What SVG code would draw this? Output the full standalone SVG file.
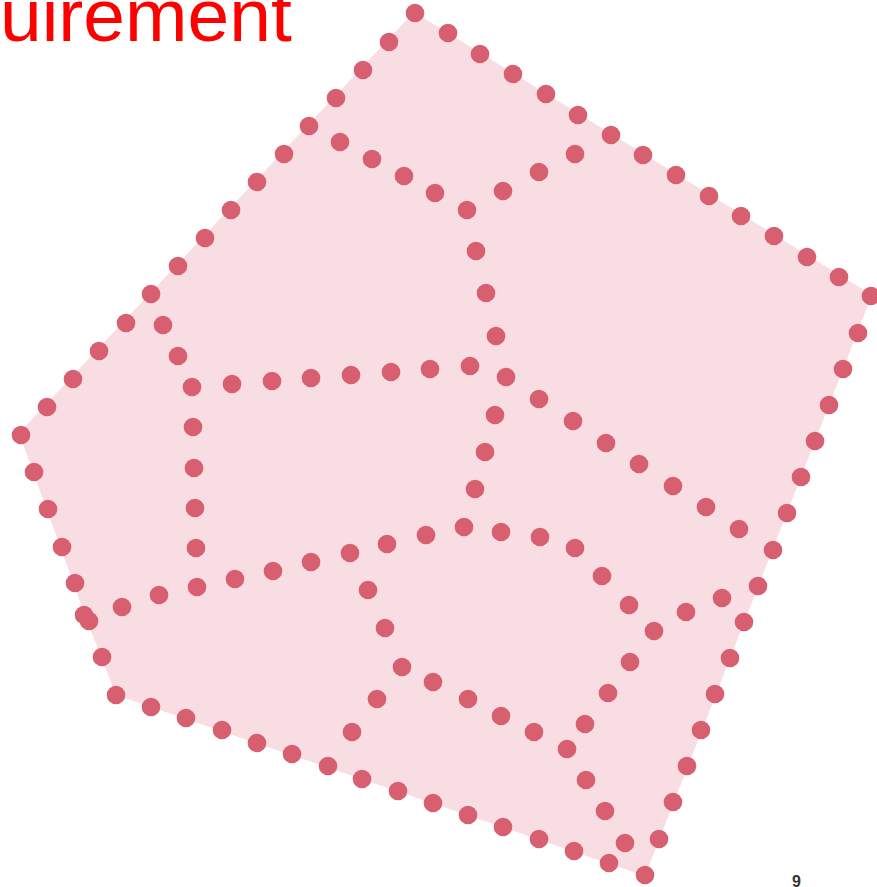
<svg xmlns="http://www.w3.org/2000/svg" width="877" height="887" viewBox="0 0 877 887">
<style>
.d{fill:#d75f70}
.t{font-family:"Liberation Sans",Arial,sans-serif}
</style>
<defs><circle id="c" r="9.3" class="d"/></defs>
<rect width="877" height="887" fill="#ffffff"/>
<g id="shape">
<polygon points="414,12 872,295 645,876 116,695 86,618 19,433" fill="#f8dde3"/>
</g>
<g id="outline">
<use href="#c" x="415" y="13"/><use href="#c" x="389" y="42"/><use href="#c" x="363" y="70"/><use href="#c" x="336" y="98"/><use href="#c" x="309" y="126"/><use href="#c" x="284" y="154"/><use href="#c" x="257" y="182"/><use href="#c" x="231" y="210"/><use href="#c" x="205" y="238"/><use href="#c" x="178" y="266"/><use href="#c" x="151" y="294"/><use href="#c" x="126" y="323"/><use href="#c" x="99" y="351"/><use href="#c" x="73" y="379"/><use href="#c" x="47" y="407"/><use href="#c" x="21" y="435"/>
<use href="#c" x="34" y="472"/><use href="#c" x="48" y="509"/><use href="#c" x="62" y="547"/><use href="#c" x="75" y="583"/><use href="#c" x="84" y="615"/><use href="#c" x="89" y="621"/><use href="#c" x="102" y="657"/><use href="#c" x="116" y="695"/>
<use href="#c" x="151" y="707"/><use href="#c" x="186" y="718"/><use href="#c" x="222" y="730"/><use href="#c" x="257" y="743"/><use href="#c" x="292" y="754"/><use href="#c" x="328" y="766"/><use href="#c" x="362" y="779"/><use href="#c" x="398" y="791"/><use href="#c" x="433" y="803"/><use href="#c" x="468" y="815"/><use href="#c" x="503" y="827"/><use href="#c" x="539" y="839"/><use href="#c" x="574" y="851"/><use href="#c" x="609" y="863"/><use href="#c" x="645" y="875"/>
<use href="#c" x="659" y="839"/><use href="#c" x="673" y="802"/><use href="#c" x="687" y="766"/><use href="#c" x="701" y="730"/><use href="#c" x="715" y="694"/><use href="#c" x="730" y="658"/><use href="#c" x="744" y="622"/><use href="#c" x="758" y="586"/><use href="#c" x="773" y="550"/><use href="#c" x="787" y="513"/><use href="#c" x="801" y="477"/><use href="#c" x="815" y="441"/><use href="#c" x="829" y="405"/><use href="#c" x="843" y="369"/><use href="#c" x="858" y="333"/><use href="#c" x="871" y="296"/>
<use href="#c" x="448" y="33"/><use href="#c" x="480" y="54"/><use href="#c" x="513" y="74"/><use href="#c" x="546" y="94"/><use href="#c" x="578" y="115"/><use href="#c" x="611" y="135"/><use href="#c" x="643" y="155"/><use href="#c" x="676" y="175"/><use href="#c" x="709" y="196"/><use href="#c" x="741" y="216"/><use href="#c" x="774" y="236"/><use href="#c" x="807" y="257"/><use href="#c" x="839" y="277"/>
</g>
<g id="connectors">
<use href="#c" x="340" y="142"/><use href="#c" x="372" y="159"/><use href="#c" x="404" y="176"/><use href="#c" x="435" y="193"/><use href="#c" x="467" y="210"/><use href="#c" x="503" y="191"/><use href="#c" x="539" y="172"/><use href="#c" x="575" y="154"/>
<use href="#c" x="476" y="251"/><use href="#c" x="486" y="293"/><use href="#c" x="496" y="336"/><use href="#c" x="506" y="377"/>
<use href="#c" x="470" y="366"/><use href="#c" x="430" y="369"/><use href="#c" x="391" y="372"/><use href="#c" x="351" y="375"/><use href="#c" x="311" y="378"/><use href="#c" x="272" y="381"/><use href="#c" x="232" y="384"/><use href="#c" x="192" y="387"/>
<use href="#c" x="163" y="325"/><use href="#c" x="178" y="356"/>
<use href="#c" x="193" y="427"/><use href="#c" x="194" y="468"/><use href="#c" x="195" y="508"/><use href="#c" x="196" y="548"/><use href="#c" x="197" y="587"/>
<use href="#c" x="159" y="595"/><use href="#c" x="122" y="607"/><use href="#c" x="235" y="579"/><use href="#c" x="273" y="571"/><use href="#c" x="311" y="562"/><use href="#c" x="350" y="553"/><use href="#c" x="387" y="544"/><use href="#c" x="426" y="535"/><use href="#c" x="464" y="527"/>
<use href="#c" x="495" y="415"/><use href="#c" x="485" y="452"/><use href="#c" x="475" y="489"/>
<use href="#c" x="501" y="532"/><use href="#c" x="540" y="537"/><use href="#c" x="575" y="548"/><use href="#c" x="602" y="576"/><use href="#c" x="629" y="605"/><use href="#c" x="654" y="631"/><use href="#c" x="686" y="612"/><use href="#c" x="722" y="598"/>
<use href="#c" x="539" y="399"/><use href="#c" x="573" y="421"/><use href="#c" x="606" y="443"/><use href="#c" x="639" y="464"/><use href="#c" x="673" y="486"/><use href="#c" x="706" y="507"/><use href="#c" x="739" y="529"/>
<use href="#c" x="630" y="662"/><use href="#c" x="608" y="693"/><use href="#c" x="585" y="724"/><use href="#c" x="567" y="749"/><use href="#c" x="586" y="780"/><use href="#c" x="605" y="811"/><use href="#c" x="625" y="843"/>
<use href="#c" x="534" y="732"/><use href="#c" x="501" y="716"/><use href="#c" x="468" y="699"/><use href="#c" x="433" y="682"/><use href="#c" x="402" y="667"/>
<use href="#c" x="368" y="590"/><use href="#c" x="385" y="628"/>
<use href="#c" x="377" y="699"/><use href="#c" x="352" y="732"/>
</g>
<g id="labels">
<text class="t" x="0" y="41" font-size="75" fill="#ff0000">uirement</text>
<text class="t" x="792" y="887" font-size="16" font-weight="bold" fill="#333333">9</text>
</g>
</svg>
